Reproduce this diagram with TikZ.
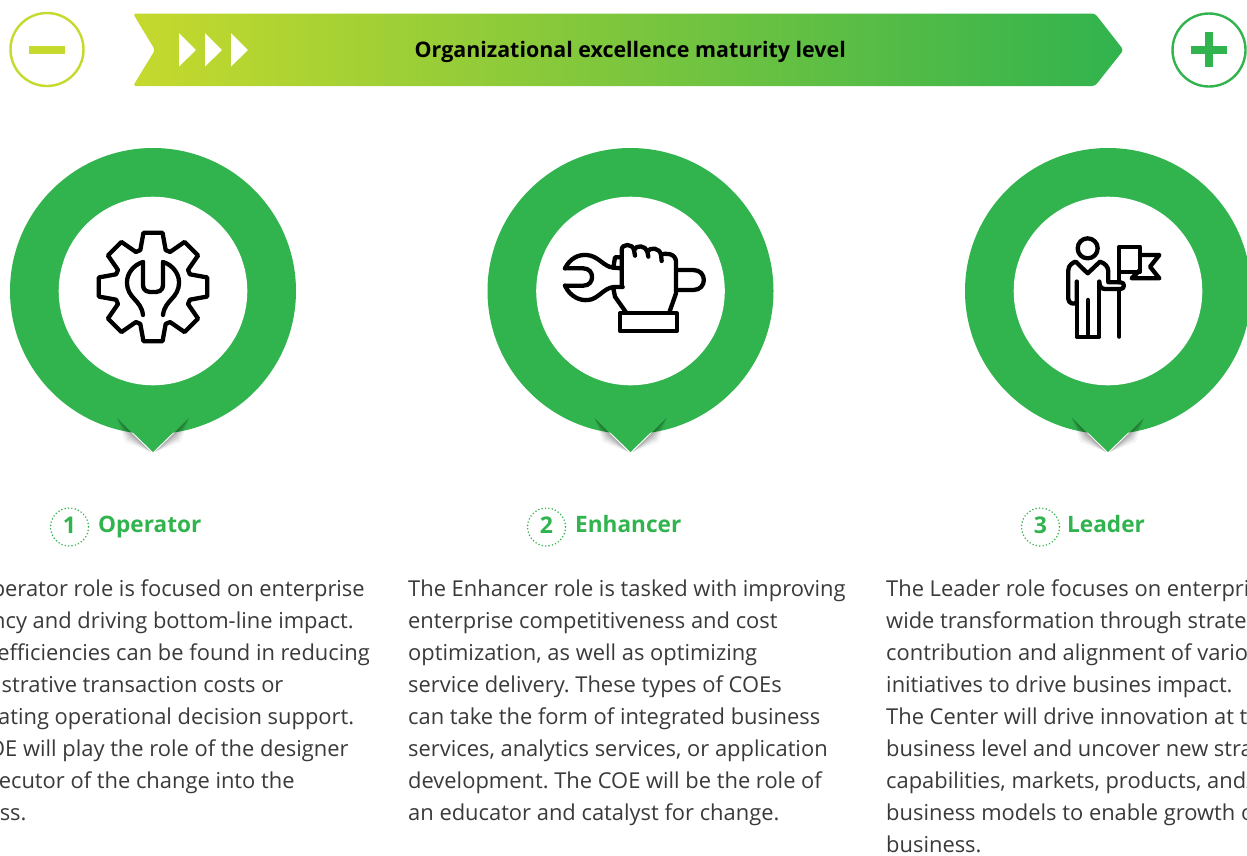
\documentclass[tikz,border=0pt]{standalone}
\usepackage{fontspec}
\setmainfont{Open Sans}
\definecolor{gr}{HTML}{31B34E}
\definecolor{lime}{HTML}{C6D92D}
\definecolor{midg}{HTML}{8DC63F}
\definecolor{bodyc}{HTML}{3A3A3A}
\newcommand\fs[2]{\fontsize{#1}{#2}\selectfont}
\frenchspacing
\tikzset{
  bodytxt/.style={anchor=base west,inner sep=0pt,text=bodyc,font=\fs{21.9}{26}},
  headtxt/.style={anchor=base west,inner sep=0pt,text=gr,font=\fs{22.6}{26}\bfseries},
  numtxt/.style={inner sep=0pt,text=gr,font=\fs{23}{26}\bfseries},
  icon/.style={draw=black,line width=4.3pt,line join=round,line cap=round},
  ring/.style={draw=gr,line width=1.7pt,dash pattern=on 0pt off 3.4pt,line cap=round},
  chev/.style={fill=white,draw=none},
}
\newcommand\bodyline[4]{\node[bodytxt] (#1) at (#2,#3) {#4};}
\newcommand\pin[1]{%
  \begin{scope}[shift={(#1,0)}]
    \fill[gr] (0,291) circle[radius=143];
    \fill[white] (0,291) circle[radius=94.3];
    \foreach \d/\o in {1.5/.10,3/.09,4.5/.07,6/.06,8/.04}{
      \fill[black,opacity=\o] (-36,418) -- (-2,452) -- (-20-\d,434+\d) -- cycle;
      \fill[black,opacity=\o] (36,418) -- (2,452) -- (20+\d,434+\d) -- cycle;
    }
    \fill[gr] (-36,417) -- (0,452) -- (36,417) -- cycle;
  \end{scope}}
\begin{document}
\begin{tikzpicture}[x=1pt,y=-1pt]
\useasboundingbox (0,0) rectangle (1247,855);
\fill[white] (0,0) rectangle (1247,855);
\clip (0,0) rectangle (1247,855);
% end symbols
\draw[lime,line width=2.4pt] (47,49.5) circle[radius=36.5];
\fill[lime] (29,46) rectangle (65,54);
\draw[gr,line width=2.4pt] (1209,50) circle[radius=36.5];
\fill[gr] (1191,46) rectangle (1227,54);
\fill[gr] (1205,32) rectangle (1213,67);
% banner
\shade[left color=lime,middle color=midg,right color=gr,rounded corners=3pt]
  (133,13.5) -- (1095,13.5) -- (1123.5,50) -- (1095,86) -- (133,86) -- (155,50) -- cycle;
\fill[chev] (179,33) -- (196,50) -- (179,66.5) -- cycle;
\fill[chev] (205,33) -- (222,50) -- (205,66.5) -- cycle;
\fill[chev] (231,33) -- (248,50) -- (231,66.5) -- cycle;
\node[inner sep=0pt,anchor=base west,font=\fs{21.4}{26}\bfseries,text=black] (title) at (414.5,57) {Organizational excellence maturity level};
% pins
\pin{153}\pin{630.5}\pin{1108}
% gear icon
\begin{scope}[shift={(153,287)}]
\draw[icon] (80:55) \foreach \a in {0,45,...,315}{ -- (\a+80:55) -- (\a+100:55) -- (\a+109:39) -- (\a+116:39)} -- cycle;
\draw[icon] (-10,-25) -- (-10,-3) .. controls (-10,5) and (-5,5) .. (0,5) .. controls (5,5) and (10,5) .. (10,-3) -- (10,-25);
\draw[icon] (-10,-25) .. controls (-20,-22) and (-26,-13) .. (-26,-5) .. controls (-26,12) and (-12,12) .. (-10,28);
\draw[icon] (10,-25) .. controls (20,-22) and (26,-13) .. (26,-5) .. controls (26,12) and (12,12) .. (10,28);
\end{scope}
% hand icon
\begin{scope}[shift={(550,225)},scale=1/3]
\draw[icon] (45,130) .. controls (60,100) and (85,88) .. (110,90) .. controls (145,92) and (160,125) .. (190,128) -- (215,130);
\draw[icon] (45,130) -- (100,130) .. controls (135,130) and (135,182) .. (100,182) -- (45,182);
\draw[icon] (45,182) .. controls (60,215) and (90,228) .. (115,225) .. controls (145,222) and (160,190) .. (190,186) -- (218,186);
\draw[icon] (190,128) -- (195,97) -- (215,97);
\draw[icon] (380,135) -- (430,135) .. controls (472,135) and (472,195) .. (430,195) -- (380,195);
\draw[icon] (215,185) -- (215,75) .. controls (215,55) and (248,55) .. (252,75) -- (255,92);
\draw[icon] (252,75) .. controls (258,58) and (288,62) .. (292,80) -- (295,95);
\draw[icon] (292,80) .. controls (300,65) and (330,68) .. (333,90) -- (335,108);
\draw[icon] (333,90) .. controls (345,82) and (378,85) .. (378,110) -- (378,205) -- (358,262);
\draw[icon] (190,190) -- (195,215) -- (228,262);
\draw[icon] (210,265) rectangle (380,318);
\end{scope}
% person icon
\begin{scope}[shift={(1050,225)},scale=1/3]
\draw[icon] (113,70) circle[radius=30];
\draw[icon] (80,170) -- (80,335) -- (148,335) -- (148,170);
\draw[icon] (114,225) -- (114,335);
\draw[icon] (80,170) -- (80,232) .. controls (72,240) and (55,235) .. (55,222) -- (55,135) .. controls (55,120) and (70,112) .. (77,110) -- (113,145) -- (150,110) .. controls (165,115) and (175,125) .. (175,140) -- (175,172) -- (212,172) .. controls (225,172) and (225,192) .. (212,192) -- (165,192) .. controls (155,192) and (148,185) .. (148,170);
\draw[icon] (208,192) -- (208,335);
\draw[icon] (208,172) -- (208,65) -- (270,65) -- (270,140) -- (208,140);
\draw[icon] (270,90) -- (328,90) -- (300,125) -- (328,160) -- (245,160) -- (270,135);
\end{scope}
% headings
\draw[ring] (69.5,527) circle[radius=19];
\node[numtxt] (n1) at (69.5,525) {1};
\node[headtxt] (h1) at (98,532) {Operator};
\draw[ring] (546.5,527) circle[radius=19];
\node[numtxt] (n2) at (546.5,525) {2};
\node[headtxt] (h2) at (575,532) {Enhancer};
\draw[ring] (1040.5,527) circle[radius=19];
\node[numtxt] (n3) at (1040.5,525) {3};
\node[headtxt] (h3) at (1067,532) {Leader};
% column 1
\bodyline{a1}{-69}{596}{The Operator role is focused on enterprise}
\bodyline{a2}{-69}{628}{efficiency and driving bottom-line impact.}
\bodyline{a3}{-69}{660}{These efficiencies can be found in reducing}
\bodyline{a4}{-69}{692}{administrative transaction costs or}
\bodyline{a5}{-69}{724.5}{automating operational decision support.}
\bodyline{a6}{-69}{756.5}{The COE will play the role of the designer}
\bodyline{a7}{-69}{788.5}{and executor of the change into the}
\bodyline{a8}{-69}{820.5}{business.}
% column 2
\bodyline{b1}{408}{596}{The Enhancer role is tasked with improving}
\bodyline{b2}{408}{628}{enterprise competitiveness and cost}
\bodyline{b3}{408}{660}{optimization, as well as optimizing}
\bodyline{b4}{408}{692}{service delivery. These types of COEs}
\bodyline{b5}{408}{724.5}{can take the form of integrated business}
\bodyline{b6}{408}{756.5}{services, analytics services, or application}
\bodyline{b7}{408}{788.5}{development. The COE will be the role of}
\bodyline{b8}{408}{820.5}{an educator and catalyst for change.}
% column 3
\bodyline{c1}{886}{596}{The Leader role focuses on enterprise-}
\bodyline{c2}{886}{628}{wide transformation through strategic}
\bodyline{c3}{886}{660}{contribution and alignment of various}
\bodyline{c4}{886}{692}{initiatives to drive busines impact.}
\bodyline{c5}{886}{724.5}{The Center will drive innovation at the}
\bodyline{c6}{886}{756.5}{business level and uncover new strategic}
\bodyline{c7}{886}{788.5}{capabilities, markets, products, and/or}
\bodyline{c8}{886}{820.5}{business models to enable growth of the}
\bodyline{c9}{886}{852.5}{business.}
\end{tikzpicture}
\end{document}
